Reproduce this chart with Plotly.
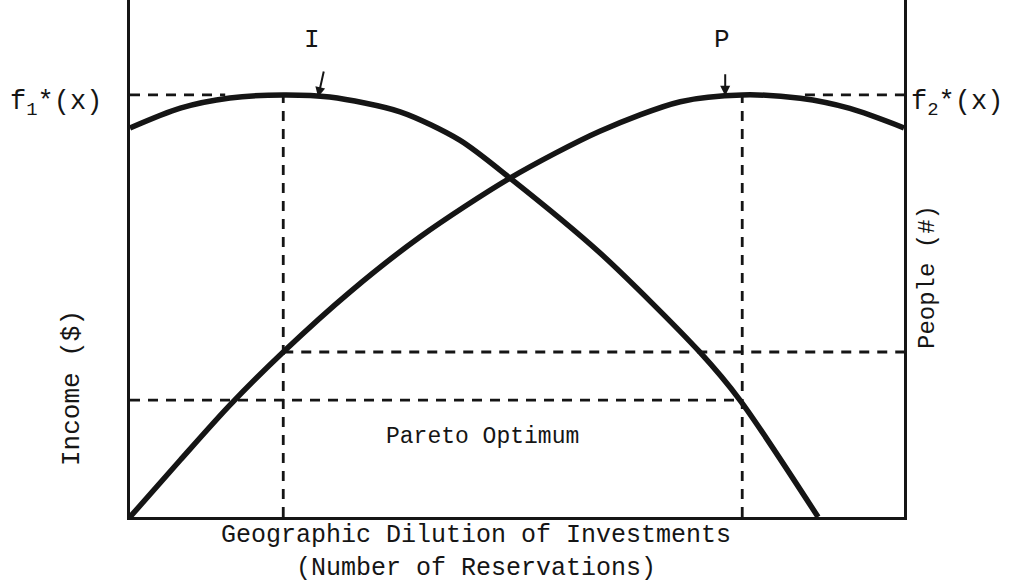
import plotly.graph_objects as go

# ---- data (x: geographic dilution, arbitrary units 0-10; y: relative value, peak = 100)
income_x = [0, 0.65, 1.29, 1.98, 2.58, 3.49, 4.26, 4.91, 6.07, 7.36, 7.88, 8.89]
income_y = [92.2, 96.9, 99.3, 100, 99.5, 96.0, 89.3, 80.3, 62.6, 39.1, 27.7, 0]

people_x = [0, 0.65, 1.29, 1.98, 2.84, 3.75, 4.91, 6.07, 7.11, 7.91, 8.66, 9.30, 10]
people_y = [0, 13.5, 26.5, 39.1, 53.3, 66.4, 80.3, 91.4, 98.4, 100, 99.2, 96.8, 92.2]

x_income_opt = 1.98   # I optimum
x_people_opt = 7.91   # P optimum
peak_level = 100
upper_level = 39.1    # P value at I optimum
lower_level = 27.7    # I value at P optimum
f1_dash_end = 1.23
f2_dash_start = 8.72
x_max = 10
y_max = 122.5

INK = "#151515"
FONT = "Liberation Mono"

fig = go.Figure()

dash = dict(color=INK, width=2.8, dash="10px,8px")

segments = [
    ([0, f1_dash_end], [peak_level, peak_level]),
    ([f2_dash_start, x_max], [peak_level, peak_level]),
    ([x_income_opt, x_income_opt], [0, peak_level]),
    ([x_people_opt, x_people_opt], [0, peak_level]),
    ([x_income_opt, x_max], [upper_level, upper_level]),
    ([0, x_people_opt], [lower_level, lower_level]),
]
for sx, sy in segments:
    fig.add_trace(go.Scatter(x=sx, y=sy, mode="lines", line=dash,
                             hoverinfo="skip", showlegend=False))

fig.add_trace(go.Scatter(x=income_x, y=income_y, mode="lines",
                         line=dict(color=INK, width=5.5, shape="spline", smoothing=0.8),
                         showlegend=False, name="Income"))
fig.add_trace(go.Scatter(x=people_x, y=people_y, mode="lines",
                         line=dict(color=INK, width=5.5, shape="spline", smoothing=0.8),
                         showlegend=False, name="People"))

W, H = 1015, 580
ML, MR, MT, MB = 130, 111, 0, 63

fig.update_layout(
    width=W, height=H,
    margin=dict(l=ML, r=MR, t=MT, b=MB),
    paper_bgcolor="white", plot_bgcolor="white",
    showlegend=False,
    font=dict(family=FONT, color=INK),
    xaxis=dict(range=[0, x_max], showgrid=False, zeroline=False, showticklabels=False,
               ticks="", showline=True, linecolor=INK, linewidth=3, mirror=False),
    yaxis=dict(range=[0, y_max], showgrid=False, zeroline=False, showticklabels=False,
               ticks="", showline=True, linecolor=INK, linewidth=3, mirror=True),
)

def px2paper(px, py):
    return (px - ML) / (W - ML - MR), (H - MB - py) / (H - MB - MT)

def label(text, px, py, size, xanchor="center", angle=0):
    xp, yp = px2paper(px, py)
    fig.add_annotation(text=text, x=xp, y=yp, xref="paper", yref="paper",
                       showarrow=False, xanchor=xanchor, yanchor="middle",
                       textangle=angle, font=dict(family=FONT, size=size, color=INK))

label("f<sub>1</sub>*(x)", 104, 104, 27, xanchor="right")
label("f<sub>2</sub>*(x)", 909, 104, 27, xanchor="left")
label("I", 312, 40, 26)
label("P", 722, 40, 26)
label("Pareto Optimum", 482, 437, 23)
label("Income ($)", 72, 388, 26, angle=-90)
label("People (#)", 927, 277, 24, angle=-90)
label("Geographic Dilution of Investments<br>(Number of Reservations)", 476, 552, 25)

# arrows pointing at the two optima
fig.add_annotation(x=2.43, y=99.5, ax=6, ay=-27, xref="x", yref="y",
                   showarrow=True, arrowhead=2, arrowsize=1, arrowwidth=2,
                   arrowcolor=INK, text="")
fig.add_annotation(x=7.69, y=99.8, ax=0, ay=-23, xref="x", yref="y",
                   showarrow=True, arrowhead=2, arrowsize=1, arrowwidth=2,
                   arrowcolor=INK, text="")

fig.write_html("out.html", config={"displayModeBar": False},
               post_script="document.body.style.margin='0';document.body.style.overflow='hidden';")
